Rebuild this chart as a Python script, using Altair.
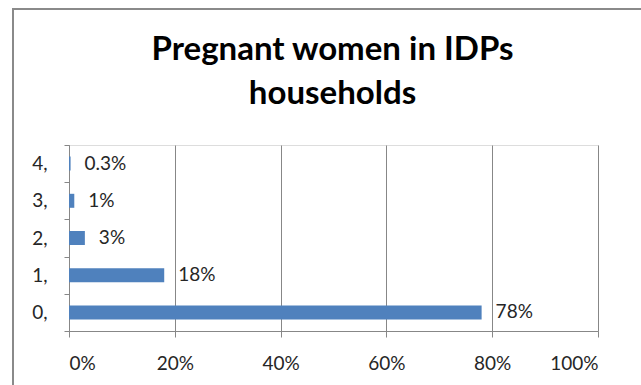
import altair as alt
import pandas as pd

categories = ["4,", "3,", "2,", "1,", "0,"]
values = [0.3, 1, 3, 18, 78]
labels = ["0.3%", "1%", "3%", "18%", "78%"]
title_lines = ["Pregnant women in IDPs", "households"]

df = pd.DataFrame({"cat": categories, "val": values, "lab": labels})

FONT = "Lato"
GRAY = "#878787"
TXT = "#262626"
FS = 19

y_enc = alt.Y("cat:N", sort=categories, title=None,
              scale=alt.Scale(paddingInner=0, paddingOuter=0),
              axis=alt.Axis(tickBand="extent", ticks=True, tickSize=5, tickColor=GRAY,
                            domainColor=GRAY, labelFontSize=FS, labelFont=FONT,
                            labelColor=TXT, labelPadding=17, grid=False))
x_enc = alt.X("val:Q", title=None,
              scale=alt.Scale(domain=[0, 100], nice=False),
              axis=alt.Axis(values=[0, 20, 40, 60, 80, 100], labelExpr="datum.value + '%'",
                            grid=True, gridColor=GRAY, tickColor=GRAY, domainColor=GRAY,
                            tickSize=6, labelFontSize=FS, labelFont=FONT, labelColor=TXT,
                            labelPadding=17))

bars = alt.Chart(df).mark_bar(color="#4F81BD", size=14).encode(x=x_enc, y=y_enc)
texts = alt.Chart(df).mark_text(align="left", baseline="middle", dx=14, fontSize=FS,
                                font=FONT, color=TXT).encode(
    x="val:Q", y=alt.Y("cat:N", sort=categories), text="lab:N")

one = pd.DataFrame({"a": [0]})
title1 = alt.Chart(one).mark_text(text=title_lines[0], font=FONT, fontSize=33, fontWeight="bold",
                                  color="#000000", align="center", baseline="alphabetic").encode(
    x=alt.value(263.5), y=alt.value(-85))
title2 = alt.Chart(one).mark_text(text=title_lines[1], font=FONT, fontSize=33, fontWeight="bold",
                                  color="#000000", align="center", baseline="alphabetic").encode(
    x=alt.value(263.5), y=alt.value(-41))
top_line = alt.Chart(one).mark_rule(color="#8a8a8a", strokeWidth=2).encode(
    x=alt.value(-57), x2=alt.value(580), y=alt.value(-136))
left_line = alt.Chart(one).mark_rule(color="#8a8a8a", strokeWidth=2).encode(
    x=alt.value(-56), y=alt.value(-137), y2=alt.value(250))

chart = alt.layer(bars, texts, title1, title2, top_line, left_line).properties(
    width=529, height=186,
    autosize=alt.AutoSizeParams(type="none"),
    padding={"left": 69, "top": 145, "right": 43, "bottom": 54},
).configure_view(stroke=None).configure(background="white")

chart.save("out.html", embed_options={"renderer": "svg", "actions": False})
